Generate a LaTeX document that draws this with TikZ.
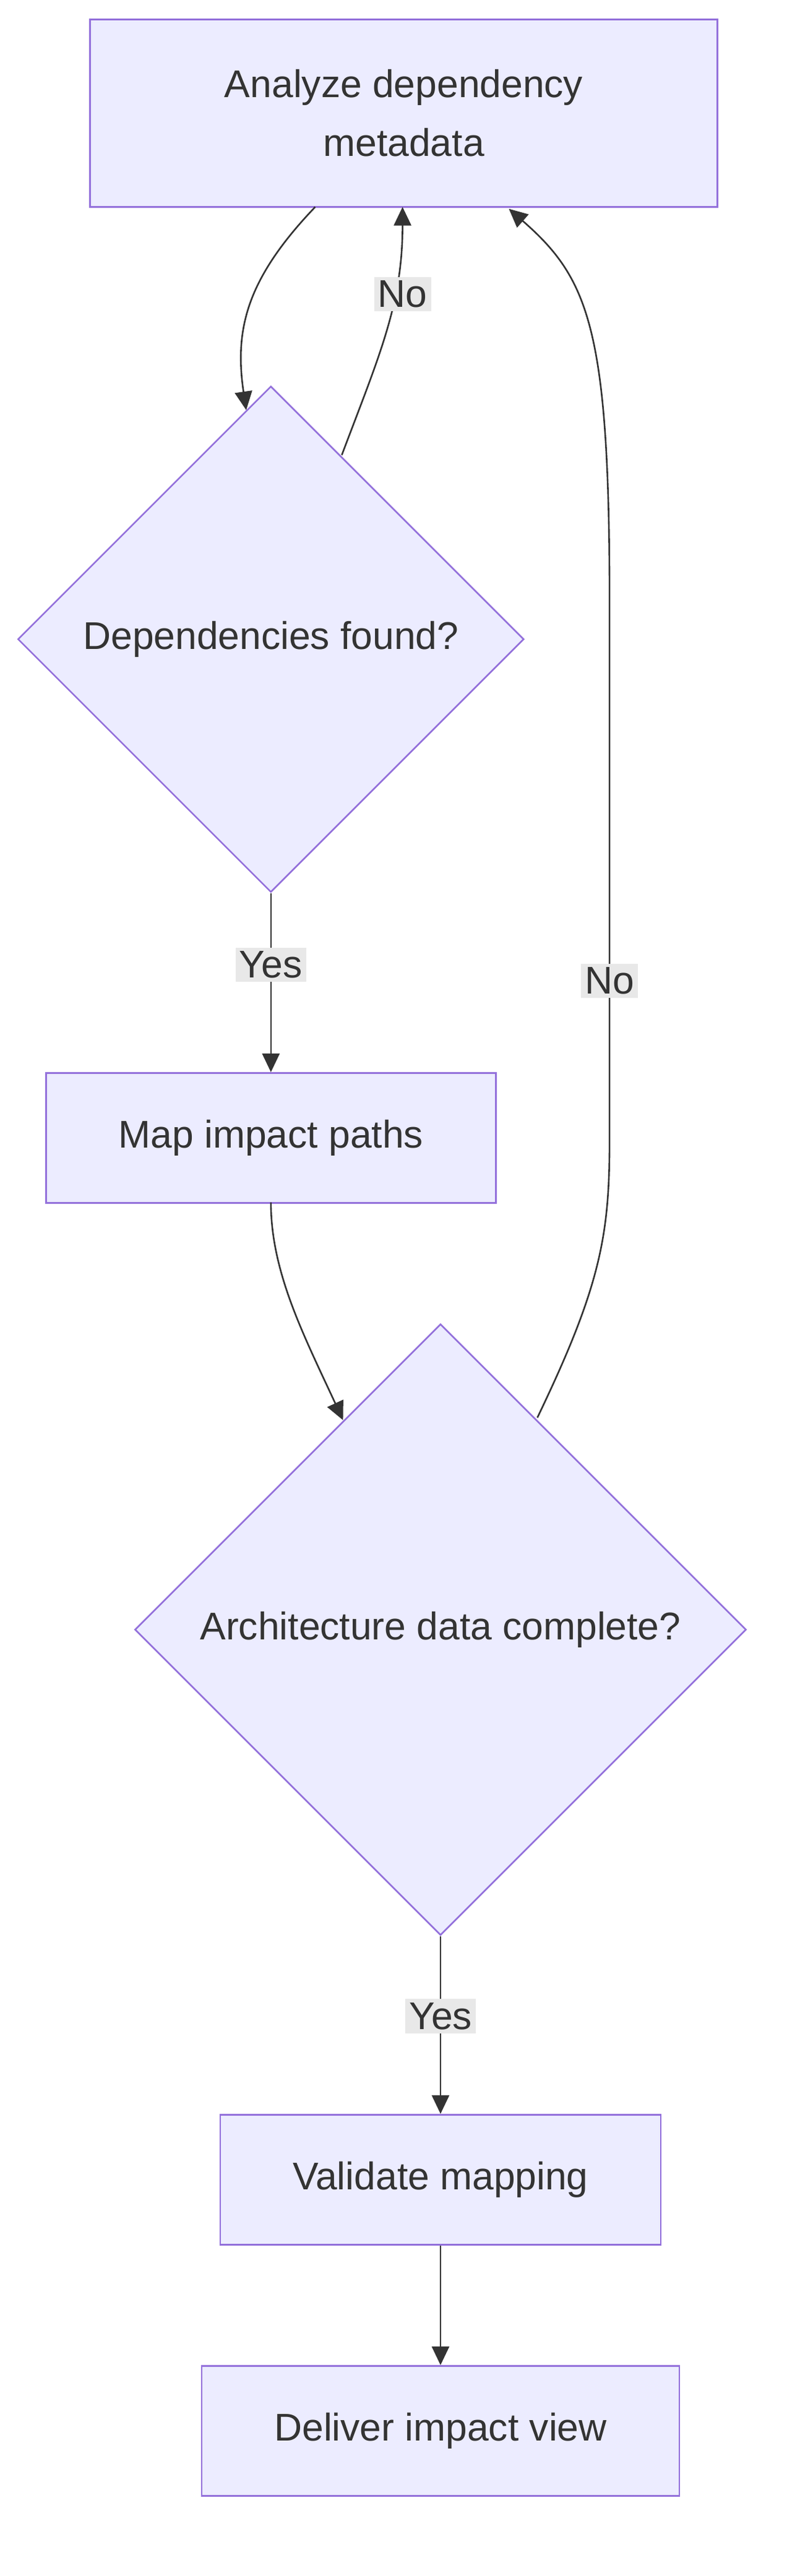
\documentclass[tikz,border=0pt]{standalone}
\usepackage{fontspec}
\setmainfont{Liberation Sans}
\usetikzlibrary{shapes.geometric,arrows.meta}
\definecolor{nfill}{HTML}{ECECFF}
\definecolor{nstroke}{HTML}{9370DB}
\definecolor{ln}{HTML}{333333}
\definecolor{lbg}{HTML}{E8E8E8}
\definecolor{txt}{HTML}{333333}
\begin{document}
\begin{tikzpicture}[x=1.023pt,y=-1.023pt,every node/.style={transform shape},scale=1,
  box/.style={draw=nstroke,fill=nfill,line width=2.6pt,inner sep=0,text=txt,align=center,font=\fontsize{62.4}{95}\selectfont},
  dia/.style={draw=nstroke,fill=nfill,line width=2.6pt,diamond,shape aspect=1,inner sep=0},
  dtext/.style={text=txt,font=\fontsize{62.4}{95}\selectfont},
  conn/.style={draw=ln,line width=2.6pt,-{Triangle[length=30pt,width=28pt]}},
  lab/.style={fill=lbg,text=txt,inner sep=6pt,font=\fontsize{62.4}{75}\selectfont}]
\useasboundingbox (0,0) rectangle (1243.4,4070.4);
\fill[white] (0,0) rectangle (1243.4,4070.4);
\node[box,minimum width=1014pt,minimum height=303pt] (b1) at (638,179) {Analyze dependency\\metadata};
\node[dia,minimum width=818pt,minimum height=818pt] (d1) at (428,1010) {};
\node[dtext] at (d1.center) {Dependencies found?};
\node[box,minimum width=727pt,minimum height=210pt] (b2) at (428,1798) {Map impact paths};
\node[dia,minimum width=988pt,minimum height=988pt] (d2) at (696,2575) {};
\node[dtext] at (d2.center) {Architecture data complete?};
\node[box,minimum width=712pt,minimum height=210pt] (b3) at (696,3444) {Validate mapping};
\node[box,minimum width=772pt,minimum height=210pt] (b4) at (696,3841) {Deliver impact view};
\coordinate (s1) at (498,327);
\coordinate (e1) at (389,648);
\draw[conn] (s1) .. controls (390,440) and (370,520) .. (e1);
\coordinate (s2) at (540,719);
\coordinate (e2) at (636,327);
\draw[conn] (s2) .. controls (600,560) and (636,480) .. (e2);
\node[lab] at (636,465) {No};
\draw[conn] (d1.south) -- (b2.north) node[lab,pos=0.4] {Yes};
\coordinate (s3) at (428,1900);
\coordinate (e3) at (542,2244);
\draw[conn] (s3) .. controls (428,2010) and (480,2110) .. (e3);
\coordinate (s4) at (849,2240);
\coordinate (e4) at (804,330);
\draw[conn] (s4) .. controls (950,2030) and (963,1950) .. (963,1800) -- (963,950) .. controls (963,520) and (930,440) .. (e4);
\node[lab] at (963,1550) {No};
\draw[conn] (d2.south) -- (b3.north) node[lab,pos=0.45] {Yes};
\draw[conn] (b3.south) -- (b4.north);
\end{tikzpicture}
\end{document}
